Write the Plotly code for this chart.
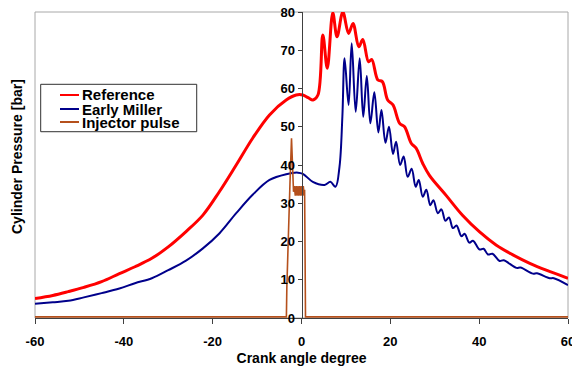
import plotly.graph_objects as go

# ---- data ----
ref_x = [-60, -56, -52.5, -49, -45, -41, -37.5, -33.7, -30, -26, -22.2, -18.5, -14.7, -11, -7.2,
         -3.45, -1.2, 0.3, 1.5, 2.6, 3.7,
         4.8, 5.8, 7.05, 8.0, 9.3, 10.6, 11.6, 12.9, 13.8, 15.1, 15.8, 17.2, 18.2, 19.4,
         20.6, 22.1, 23.2, 24.7, 25.8, 27.3, 28.8, 32.6, 36.3, 40.1, 43.8, 47.6, 51.4, 55.1, 60]
ref_y = [5.1, 5.9, 6.9, 8.0, 9.5, 11.6, 13.4, 15.6, 18.6, 22.6, 26.9, 33.0, 40.0, 47.0, 53.1,
         57.0, 58.3, 58.3, 57.6, 57.0, 58.3,
         74.0, 65.3, 79.8, 73.5, 80.0, 74.4, 77.0, 70.9, 72.8, 67.0, 67.6, 62.2, 61.8, 57.0,
         55.7, 50.9, 50.0, 45.7, 44.4, 40.4, 37.3, 32.0, 26.8, 22.5, 19.1, 16.5, 14.3, 12.5, 10.4]

miller_x = [-60, -56, -52.5, -49, -45, -41, -37.5, -33.7, -30, -26, -22.2, -18.5, -14.7, -11,
            -7.2, -3.45, -0.8, 0.3, 2.55, 5.2, 6.5,
            7.66, 8.56, 9.2, 9.7, 10.6, 11.3, 12.2, 13.1, 13.9, 14.7, 15.5, 16.4, 17.3, 18.0,
            18.9, 19.7, 20.6, 21.3, 22.2, 23.0, 23.9, 24.8, 25.7, 26.4, 27.3, 28.1, 29.0, 29.7,
            30.7, 31.5, 32.4, 33.2, 34.1, 34.9, 36.0, 36.7, 37.8, 38.6, 40.1, 41.0, 42.0, 43.0,
            44.6, 45.5, 48.4, 49.3, 52.1, 53.0, 55.9, 56.8, 60]
miller_y = [3.7, 4.1, 4.5, 5.4, 6.5, 7.7, 9.1, 10.4, 12.5, 15.0, 18.2, 22.1, 27.4, 32.2,
            36.1, 37.6, 38.0, 37.7, 35.6, 34.8, 35.6,
            34.3, 39.6, 52.6, 67.9, 55.7, 71.8, 53.9, 67.9, 52.6, 63.3, 50.9, 59.0, 48.5, 54.4,
            45.8, 50.0, 42.9, 46.1, 40.0, 42.2, 36.9, 39.0, 34.3, 36.1, 31.7, 33.5, 29.5, 30.8,
            27.4, 28.4, 25.4, 26.3, 23.5, 24.2, 21.4, 22.0, 19.7, 20.2, 17.9, 18.1, 16.6, 16.8,
            14.9, 15.1, 13.1, 13.2, 11.6, 11.7, 10.4, 10.4, 8.6]

inj_x = [-60, -3.4, -3.3, -3.1, -2.9, -2.6, -2.25, -2.0, -1.8, -1.6, -1.4, -1.2, -1.0, -0.8,
         -0.6, -0.4, -0.2, 0.0, 0.2, 0.4, 0.6, 0.7, 0.9, 60]
inj_y = [0.3, 0.3, 8, 17, 20, 35, 47, 36, 33, 34.5, 32, 34.5, 32, 34.5,
         32, 34.5, 32, 34.5, 32, 34.5, 32, 33.5, 0.3, 0.3]

names = ["Reference", "Early Miller", "Injector pulse"]
colors = ["#FF0000", "#00008B", "#B5501C"]
widths = [3, 2, 1.6]

x_ticks = [-60, -40, -20, 0, 20, 40, 60]
y_ticks = [0, 10, 20, 30, 40, 50, 60, 70, 80]

FONT = "Liberation Sans, Arial, sans-serif"

fig = go.Figure()
for xs, ys, nm, c, w in [(ref_x, ref_y, names[0], colors[0], widths[0]),
                         (miller_x, miller_y, names[1], colors[1], widths[1]),
                         (inj_x, inj_y, names[2], colors[2], widths[2])]:
    fig.add_trace(go.Scatter(x=xs, y=ys, mode="lines", name=nm,
                             line=dict(color=c, width=w,
                                       shape="spline" if nm != names[2] else "linear",
                                       smoothing=1.0),
                             showlegend=False))

fig.update_layout(
    width=572, height=367,
    margin=dict(l=35, r=4, t=12, b=49, autoexpand=False),
    paper_bgcolor="white", plot_bgcolor="white",
    font=dict(family=FONT, color="black"),
    xaxis=dict(range=[-60, 60], domain=[0, 1], tickvals=x_ticks, ticktext=[str(v) for v in x_ticks],
               ticks="outside", ticklen=5, tickcolor="#404040", showline=True,
               linecolor="#404040", linewidth=1, showgrid=False, zeroline=False,
               ticklabeloverflow="allow", automargin=False, ticklabelstandoff=6,
               tickfont=dict(family=FONT, size=13, weight="bold", color="black"),
               title=dict(text="Crank angle degree", standoff=5,
                          font=dict(family=FONT, size=14, weight="bold", color="black"))),
    yaxis=dict(range=[0, 80], anchor="free", position=0.5, side="left", automargin=False,
               tickvals=y_ticks, ticks="outside", ticklen=4, tickcolor="#404040",
               showline=True, linecolor="#404040", linewidth=1, showgrid=False, zeroline=False,
               tickfont=dict(family=FONT, size=13, weight="bold", color="black")),
)

# plot-area border (grey)
fig.add_shape(type="rect", xref="paper", yref="paper", x0=0, x1=1, y0=0, y1=1,
              line=dict(color="#A8A8A8", width=1), layer="below")

# y-axis title
fig.add_annotation(text="Cylinder Pressure [bar]", xref="paper", yref="paper",
                   x=-0.034, y=0.529, xanchor="center", yanchor="middle", textangle=-90,
                   showarrow=False, font=dict(family=FONT, size=14, weight="bold", color="black"))

# legend box (drawn manually to match the compact layout)
fig.add_shape(type="rect", xref="paper", yref="paper", x0=0.0107, x1=0.3034, y0=0.6088, y1=0.7637,
              line=dict(color="#303030", width=1), fillcolor="white", layer="above")
row_y = [0.7288, 0.6830, 0.6405]
for nm, c, yy in zip(names, colors, row_y):
    fig.add_shape(type="line", xref="paper", yref="paper", x0=0.0469, x1=0.0826, y0=yy, y1=yy,
                  line=dict(color=c, width=2), layer="above")
    fig.add_annotation(text=nm, xref="paper", yref="paper", x=0.0844, y=yy,
                       xanchor="left", yanchor="middle", showarrow=False,
                       font=dict(family=FONT, size=15, weight="bold", color="black"))

fig.write_html("out.html")
